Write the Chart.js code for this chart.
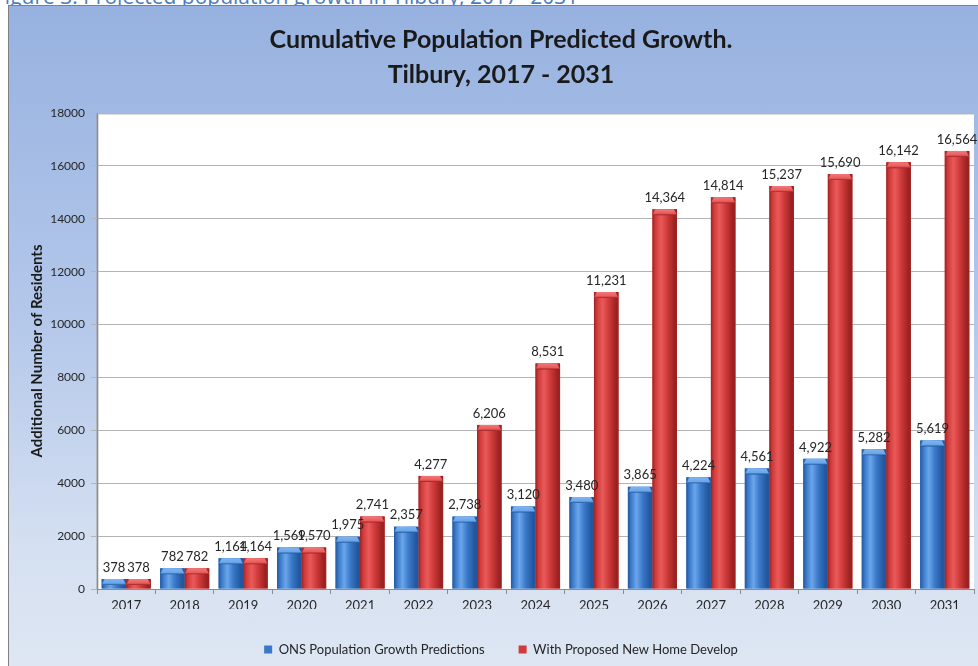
<!DOCTYPE html>
<html>
<head>
<meta charset="utf-8">
<script src="https://cdn.jsdelivr.net/npm/chart.js@4.4.1/dist/chart.umd.min.js"></script>
<style>
  html, body { margin: 0; padding: 0; background: #ffffff; overflow: hidden; }
  body { width: 978px; height: 666px; position: relative; font-family: Lato, sans-serif; }
  #caption {
    position: absolute; left: -6px; top: -14px; white-space: nowrap; line-height: 1;
    font-family: "Open Sans", sans-serif; font-size: 21px; color: #4a7cc4;
  }
  #frame {
    position: absolute; left: 8px; top: 5px; width: 990px; height: 680px;
    border-left: 1px solid #808080; border-top: 1px solid #808080;
    background: linear-gradient(to bottom, #97b2e0 0%, #b3c7ea 45%, #d5e0f1 80%, #dfe7f3 100%);
  }
  #box { position: absolute; left: 28px; top: 6px; width: 950px; height: 660px; }
</style>
</head>
<body>
<div id="caption">Figure 3: Projected population growth in Tilbury, 2017- 2031</div>
<div id="frame"></div>
<div id="box"><canvas id="growthChart"></canvas></div>
<script>
// years and cumulative additional residents
const years = ['2017', '2018', '2019', '2020', '2021', '2022', '2023', '2024',
    '2025', '2026', '2027', '2028', '2029', '2030', '2031']
const onsGrowth = [378, 782, 1164, 1569, 1975, 2357, 2738, 3120,
    3480, 3865, 4224, 4561, 4922, 5282, 5619]
const withNewHomes = [378, 782, 1164, 1570, 2741, 4277, 6206, 8531,
    11231, 14364, 14814, 15237, 15690, 16142, 16564]
const seriesNames = ['ONS Population Growth Predictions', 'With Proposed New Home Develop']
const yMax = 18000
const yStep = 2000

// light/dark shades for the cylinder look of each series
const shades = [
    { base: '#3a78c9', light: '#6aa6ea', dark: '#22579e', cap: '#7fb4f0' },
    { base: '#cf3a3a', light: '#ea5a5a', dark: '#9c2222', cap: '#f07a7a' }
]

const plotBackground = {
    id: 'plotBackground',
    beforeDraw(chart) {
        const { ctx, chartArea: a } = chart
        ctx.save()
        ctx.fillStyle = '#ffffff'
        ctx.fillRect(a.left, a.top, a.right - a.left, a.bottom - a.top)
        ctx.strokeStyle = '#9a9a9a'
        ctx.lineWidth = 1
        ctx.beginPath()
        ctx.moveTo(a.left, a.bottom)
        ctx.lineTo(a.left, a.top + 0.5)
        ctx.lineTo(a.right, a.top + 0.5)
        ctx.stroke()
        ctx.strokeStyle = 'rgba(120,120,120,0.25)'
        ctx.beginPath()
        ctx.moveTo(a.left + 1.5, a.bottom)
        ctx.lineTo(a.left + 1.5, a.top + 1.5)
        ctx.lineTo(a.right, a.top + 1.5)
        ctx.stroke()
        ctx.restore()
    }
}

const barShading = {
    id: 'barShading',
    afterDatasetsDraw(chart) {
        const ctx = chart.ctx
        chart.data.datasets.forEach(function (ds, di) {
            const s = shades[di]
            chart.getDatasetMeta(di).data.forEach(function (bar, i) {
                const left = bar.x - bar.width / 2
                const w = bar.width
                const top = bar.y
                const h = bar.base - bar.y
                ctx.save()
                let g = ctx.createLinearGradient(left, 0, left + w, 0)
                g.addColorStop(0, s.dark)
                g.addColorStop(0.12, s.base)
                g.addColorStop(0.35, s.light)
                g.addColorStop(0.6, s.base)
                g.addColorStop(0.9, s.dark)
                g.addColorStop(1, s.dark)
                ctx.fillStyle = g
                ctx.fillRect(left, top, w, h)
                // rounded cap on the top of the bar
                const capH = Math.min(6, h)
                let cg = ctx.createLinearGradient(0, top, 0, top + capH)
                cg.addColorStop(0, s.cap)
                cg.addColorStop(0.7, s.light)
                cg.addColorStop(1, s.dark)
                ctx.fillStyle = cg
                ctx.beginPath()
                ctx.moveTo(left, top + capH)
                ctx.lineTo(left + 3, top)
                ctx.lineTo(left + w - 3, top)
                ctx.lineTo(left + w, top + capH)
                ctx.closePath()
                ctx.fill()
                ctx.restore()
            })
        })
    }
}

const valueLabels = {
    id: 'valueLabels',
    afterDatasetsDraw(chart) {
        const ctx = chart.ctx
        ctx.save()
        ctx.font = '13px Lato'
        ctx.fillStyle = '#262626'
        ctx.textAlign = 'center'
        ctx.textBaseline = 'bottom'
        chart.data.datasets.forEach(function (ds, di) {
            chart.getDatasetMeta(di).data.forEach(function (bar, i) {
                ctx.fillText(ds.data[i].toLocaleString('en-US'), bar.x, bar.y - 5)
            })
        })
        ctx.restore()
    }
}

const data = {
    labels: years,
    datasets: [
        { label: seriesNames[0], data: onsGrowth, backgroundColor: shades[0].base },
        { label: seriesNames[1], data: withNewHomes, backgroundColor: shades[1].base }
    ]
}

const config = {
    type: 'bar',
    data: data,
    options: {
        responsive: true,
        maintainAspectRatio: false,
        animation: false,
        layout: { padding: { top: 0, right: 4, bottom: 0, left: 0 } },
        datasets: {
            bar: { categoryPercentage: 0.84, barPercentage: 1.0, borderWidth: 0 }
        },
        scales: {
            x: {
                grid: { display: true, drawOnChartArea: false, tickLength: 5, color: '#8c8c8c', offset: true },
                border: { display: true, color: '#8c8c8c' },
                ticks: { color: '#262626', font: { family: 'Lato', size: 13 }, padding: 4 },
                afterFit: function (scale) { scale.height = 20 }
            },
            y: {
                min: 0,
                max: yMax,
                ticks: {
                    stepSize: yStep,
                    color: '#262626',
                    font: { family: 'Lato', size: 12 },
                    padding: 6,
                    callback: function (v) { return String(v) }
                },
                grid: { color: '#b4b4b4', tickLength: 6 },
                border: { display: true, color: '#8c8c8c' },
                title: {
                    display: true,
                    text: 'Additional Number of Residents',
                    color: '#1a1a1a',
                    font: { family: 'Lato', size: 15, weight: 'bold' },
                    padding: { top: 0, bottom: 6 }
                },
                afterFit: function (scale) { scale.width = 69 }
            }
        },
        plugins: {
            title: {
                display: true,
                text: ['Cumulative Population Predicted Growth.', 'Tilbury, 2017 - 2031'],
                color: '#1a1a1a',
                font: { family: 'Lato', size: 25, weight: 'bold', lineHeight: 1.4 },
                padding: { top: 16, bottom: 21 }
            },
            legend: {
                position: 'bottom',
                labels: {
                    boxWidth: 8,
                    boxHeight: 8,
                    color: '#262626',
                    font: { family: 'Lato', size: 13 },
                    padding: 34
                }
            },
            tooltip: { enabled: false }
        }
    },
    plugins: [plotBackground, barShading, valueLabels]
}

new Chart(document.getElementById('growthChart'), config)
</script>
</body>
</html>
